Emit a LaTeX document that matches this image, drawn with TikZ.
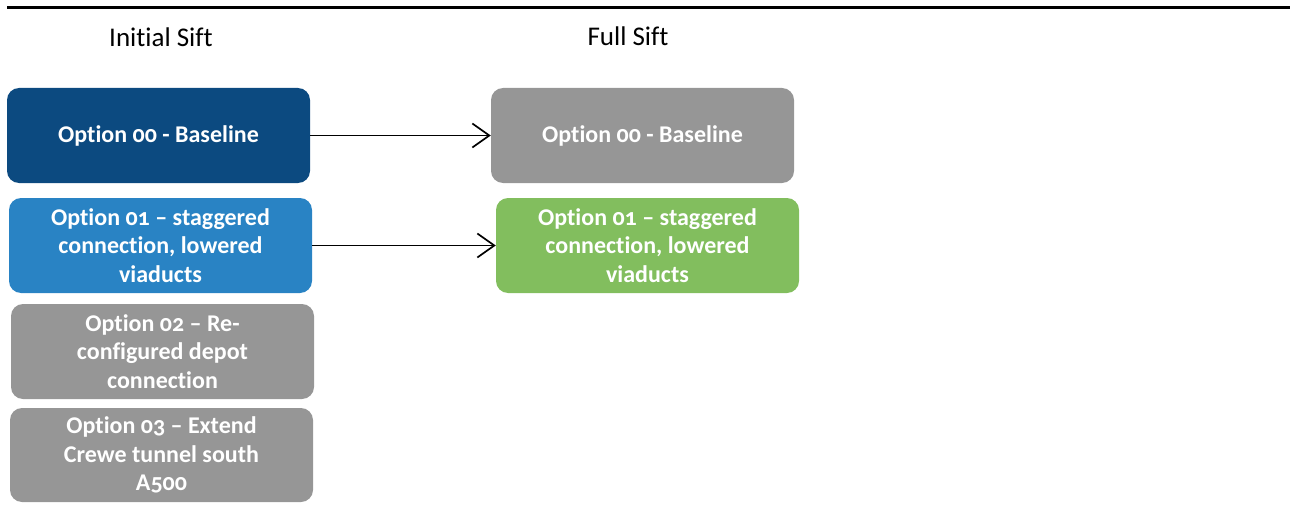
\documentclass[tikz,border=0pt]{standalone}
\usepackage{fontspec}
\setmainfont{Carlito}[Numbers=OldStyle,Ligatures={NoCommon,NoDiscretionary}]
\usetikzlibrary{arrows.meta}
\definecolor{darkblue}{RGB}{12,74,128}
\definecolor{midblue}{RGB}{41,131,196}
\definecolor{boxgray}{RGB}{150,150,150}
\definecolor{boxgreen}{RGB}{130,190,94}
\tikzset{
  optbox/.style={rectangle, rounded corners=12pt, minimum width=303pt, minimum height=95pt,
    inner sep=0pt, text=white, align=center,
    font=\fontsize{24}{28.5}\selectfont\bfseries},
  title/.style={anchor=base, font=\fontsize{27}{32}\selectfont},
  conn/.style={line width=1.7pt, -{Straight Barb[length=17pt,width=24pt,line width=1.7pt]}}
}
\begin{document}
\begin{tikzpicture}[x=1pt,y=-1pt]
\useasboundingbox (0,0) rectangle (1290,508);
\coordinate (rl) at (7,8);
\coordinate (rr) at (1290,8);
\draw[line width=3pt] (rl) -- (rr);
\node[title] (t1) at (161,47) {Initial Sift};
\node[title] (t2) at (628,46) {Full Sift};
\node[optbox, fill=darkblue] (a0) at (158.5,135.5) {\raisebox{-2pt}{Option 00 - Baseline}};
\node[optbox, fill=midblue] (a1) at (160.5,245.5) {Option 01 – staggered\\connection, lowered\\viaducts};
\node[optbox, fill=boxgray] (a2) at (162.5,351.5) {Option 02 – Re-\\configured depot\\connection};
\node[optbox, fill=boxgray, minimum height=94pt] (a3) at (161.5,455) {Option 03 – Extend\\Crewe tunnel south\\A500};
\node[optbox, fill=boxgray] (b0) at (642.5,135.5) {\raisebox{-2pt}{Option 00 - Baseline}};
\node[optbox, fill=boxgreen] (b1) at (647.5,245.5) {Option 01 – staggered\\connection, lowered\\viaducts};
\draw[conn] (a0.east) -- (b0.west);
\draw[conn] (a1.east) -- (b1.west);
\end{tikzpicture}
\end{document}
